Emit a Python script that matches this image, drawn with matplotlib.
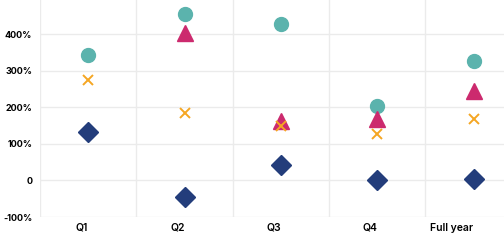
import numpy as np
import matplotlib.pyplot as plt
import matplotlib.transforms as mtransforms

# categories and series values (percent)
categories = ['Q1', 'Q2', 'Q3', 'Q4', 'Full year']
circle_vals = [342, 455, 428, 204, 327]
triangle_vals = [np.nan, 402, 162, 168, 245]
cross_vals = [275, 183, 148, 128, 168]
diamond_vals = [132, -44, 41, 1, 5]

y_ticks = [-100, 0, 100, 200, 300, 400, 500]
y_labels = ['-100%', '0', '100%', '200%', '300%', '400%', '500%']

plt.rcParams['font.family'] = ['Inter', 'DejaVu Sans']

fig = plt.figure(figsize=(5.04, 2.49), dpi=100)
ax = fig.add_axes([40 / 504, 32 / 249, 481.7 / 504, 217 / 249])

x = np.arange(len(categories))
ax.plot(x, circle_vals, 'o', color='#5bb3ad', markersize=10, linestyle='none', zorder=3)
ax.plot(x, triangle_vals, '^', color='#cc2a6e', markersize=12, linestyle='none', zorder=3)
ax.plot(x, cross_vals, 'x', color='#f5a623', markersize=7, markeredgewidth=1.4,
        linestyle='none', zorder=4)
ax.plot(x, diamond_vals, 'D', color='#233d7b', markersize=10.5, linestyle='none', zorder=3)

ax.set_xlim(-0.5, len(categories) - 0.5)
ax.set_ylim(-100, 493)

ax.set_yticks(y_ticks[:-1])
ax.set_yticklabels(y_labels[:-1], fontsize=6.5, fontweight='bold')

# top tick label sits above the axes, partly outside the figure (as in the original)
offset = mtransforms.ScaledTranslation(-8 / 100, 0, fig.dpi_scale_trans)
ax.text(-0.5, y_ticks[-1], y_labels[-1], transform=ax.transData + offset,
        ha='right', va='center', fontsize=6.5, fontweight='bold', clip_on=False)

ax.set_xticks(x)
ax.set_xticklabels(categories, fontsize=7.5, fontweight='semibold', ha='right')
ax.set_xticks(np.arange(len(categories) + 1) - 0.5, minor=True)

ax.tick_params(axis='both', which='both', length=0)
ax.tick_params(axis='y', pad=5.5)
ax.tick_params(axis='x', pad=4)

ax.grid(axis='y', which='major', color='#ebebeb', linewidth=1)
ax.grid(axis='x', which='minor', color='#ebebeb', linewidth=1)
ax.set_axisbelow(True)

for s in ax.spines.values():
    s.set_visible(False)

fig.savefig('out.png', dpi=100)
